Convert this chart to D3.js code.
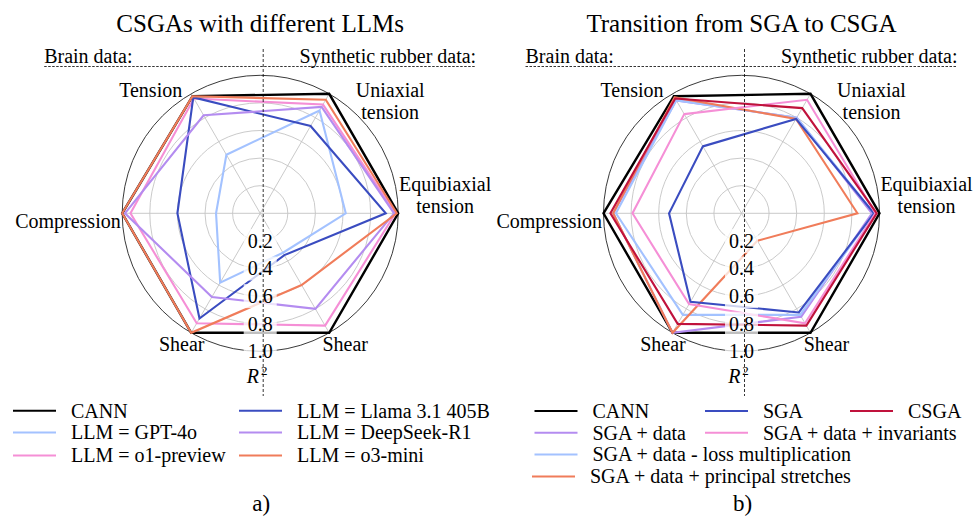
<!DOCTYPE html>
<meta charset="utf-8">
<head>
  <script src="https://cdn.jsdelivr.net/npm/d3@7"></script>
  <style>
    body { margin: 0; background: #fff; }
    svg text { font-family: "Liberation Serif", "Times New Roman", serif; fill: #000; }
  </style>
</head>
<body>
  <svg id="svg" width="974" height="518"></svg>
  <script>
    // axis order: Tension, Uniaxial tension, Equibiaxial tension, Shear (rubber), Shear (brain), Compression
    const axisAngles = [120, 60, 0, -60, -120, 180];
    const axisLabels = [["Tension"], ["Uniaxial", "tension"], ["Equibiaxial", "tension"], ["Shear"], ["Shear"], ["Compression"]];
    const radialTicks = [0.2, 0.4, 0.6, 0.8, 1.0];

    // panel a) values (R^2)
    const seriesA = ["CANN", "LLM = GPT-4o", "LLM = o1-preview", "LLM = Llama 3.1 405B", "LLM = DeepSeek-R1", "LLM = o3-mini"];
    const cannA    = [0.98, 1.00, 1.00, 1.00, 1.00, 1.00];
    const gpt4o    = [0.49, 0.86, 0.62, 0.33, 0.58, 0.32];
    const o1prev   = [0.96, 0.91, 0.98, 0.94, 0.92, 0.94];
    const llama    = [0.97, 0.73, 0.91, 0.35, 0.88, 0.60];
    const deepseek = [0.82, 0.89, 0.97, 0.80, 0.70, 0.98];
    const o3mini   = [0.98, 0.95, 0.99, 0.60, 1.00, 1.00];

    // panel b) values (R^2)
    const seriesB = ["CANN", "SGA", "CSGA", "SGA + data", "SGA + data + invariants", "SGA + data - loss multiplication", "SGA + data + principal stretches"];
    const cannB   = [0.98, 1.00, 1.00, 1.00, 1.00, 1.00];
    const sga     = [0.56, 0.79, 0.96, 0.83, 0.74, 0.525];
    const csga    = [0.96, 0.88, 0.98, 0.94, 0.925, 0.95];
    const sgaData = [0.945, 0.80, 0.945, 0.865, 1.00, 0.93];
    const sgaInv  = [0.83, 0.95, 0.97, 0.92, 0.76, 0.79];
    const sgaLoss = [0.945, 0.80, 0.96, 0.85, 0.85, 0.91];
    const sgaPS   = [0.97, 0.79, 0.84, 0.23, 1.00, 0.93];

    const C = {
      black: "#000000", lblue: "#a3c2ff", pink: "#f58fd6", dblue: "#3a4cc0",
      purple: "#b48cf0", orange: "#f07c5a", crimson: "#c0123c"
    };

    const svg = d3.select("#svg");
    const R = 138, cy = 213.3;

    // label offsets from centre (anchor, dx, baseline dy)
    const labelPos = [
      {anchor: "end", dx: -78, dy: -116},
      {anchor: "middle", dx: 130, dy: -116},
      {anchor: "middle", dx: 185, dy: -22.6},
      {anchor: "middle", dx: 85, dy: 137.7},
      {anchor: "middle", dx: -78.5, dy: 137.7},
      {anchor: "end", dx: -139.5, dy: 14.7}
    ];

    function panel(cx, title, panelTag, lines, legend) {
      let g = svg.append("g");
      let r = d3.scaleLinear().domain([0, 1]).range([0, R]);
      let rad = a => (90 - a) * Math.PI / 180;   // math angle -> d3 radial angle

      g.append("text").attr("x", cx).attr("y", 31.5).attr("text-anchor", "middle")
        .style("font-size", "25px").text(title);

      // header with dashed separators
      g.append("text").attr("x", cx - 216).attr("y", 63).style("font-size", "20px").text("Brain data:");
      g.append("text").attr("x", cx + 216).attr("y", 63).attr("text-anchor", "end")
        .style("font-size", "20px").text("Synthetic rubber data:");
      g.append("line").attr("x1", cx - 216).attr("x2", cx + 216).attr("y1", 66.5).attr("y2", 66.5)
        .attr("stroke", "#000").attr("stroke-width", 0.8).attr("stroke-dasharray", "2.5,1.5");

      let plot = g.append("g").attr("transform", `translate(${cx},${cy})`);

      // grid circles
      plot.selectAll("circle.grid").data(radialTicks.slice(0, -1)).enter().append("circle")
        .attr("r", d => r(d)).attr("fill", "none").attr("stroke", "#c4c4c4").attr("stroke-width", 0.9);
      // spokes
      plot.selectAll("line.spoke").data(axisAngles).enter().append("line")
        .attr("x1", 0).attr("y1", 0)
        .attr("x2", d => r(1) * Math.cos(d * Math.PI / 180))
        .attr("y2", d => -r(1) * Math.sin(d * Math.PI / 180))
        .attr("stroke", "#c4c4c4").attr("stroke-width", 0.9);
      plot.append("circle").attr("r", r(1)).attr("fill", "none").attr("stroke", "#222").attr("stroke-width", 0.9);

      // vertical dashed divider
      g.append("line").attr("x1", cx + 3).attr("x2", cx + 3).attr("y1", 49).attr("y2", 396)
        .attr("stroke", "#000").attr("stroke-width", 0.8).attr("stroke-dasharray", "3,2");

      let lineGen = d3.lineRadial()
        .angle((d, i) => rad(axisAngles[i]))
        .radius(d => r(d))
        .curve(d3.curveLinearClosed);

      plot.selectAll("path.series").data(lines).enter().append("path")
        .attr("d", d => lineGen(d.values))
        .attr("fill", "none").attr("stroke", d => d.color)
        .attr("stroke-width", d => d.color === C.black ? 2.4 : 2.1)
        .attr("stroke-linejoin", "miter");

      // radial tick labels with translucent white boxes
      radialTicks.forEach(t => {
        let tg = plot.append("g");
        let txt = tg.append("text").attr("x", 0).attr("y", r(t)).attr("dy", "0.35em")
          .attr("text-anchor", "middle").style("font-size", "20px").text(t.toFixed(1));
        let bb = txt.node().getBBox();
        tg.insert("rect", "text").attr("x", bb.x - 4).attr("y", bb.y - 1)
          .attr("width", bb.width + 8).attr("height", bb.height + 2)
          .attr("fill", "#fff").attr("opacity", 0.75);
      });
      let rl = plot.append("text").attr("x", -3).attr("y", 170).attr("text-anchor", "middle").style("font-size", "20px");
      rl.append("tspan").style("font-style", "italic").text("R");
      rl.append("tspan").attr("dx", 2).attr("dy", -8).style("font-size", "13px").text("2");

      // axis labels
      axisLabels.forEach((lab, i) => {
        let p = labelPos[i];
        let t = plot.append("text").attr("text-anchor", p.anchor).style("font-size", "20px");
        lab.forEach((s, k) => t.append("tspan").attr("x", p.dx).attr("y", p.dy + k * 22).text(s));
      });

      // legend
      lines.forEach((d, i) => {
        let L = legend[i];
        g.append("line").attr("x1", L.x).attr("x2", L.x + 43).attr("y1", L.y).attr("y2", L.y)
          .attr("stroke", d.color).attr("stroke-width", 2);
        g.append("text").attr("x", L.x + 58).attr("y", L.y + 6.8).style("font-size", "20px").text(d.name);
      });

      g.append("text").attr("x", cx + 1).attr("y", 511).attr("text-anchor", "middle")
        .style("font-size", "23px").text(panelTag);
    }

    const linesA = [
      {name: seriesA[0], values: cannA, color: C.black},
      {name: seriesA[1], values: gpt4o, color: C.lblue},
      {name: seriesA[2], values: o1prev, color: C.pink},
      {name: seriesA[3], values: llama, color: C.dblue},
      {name: seriesA[4], values: deepseek, color: C.purple},
      {name: seriesA[5], values: o3mini, color: C.orange}
    ];
    const legendA = [
      {x: 13, y: 410.7}, {x: 13, y: 432.5}, {x: 13, y: 455.5},
      {x: 239, y: 410.7}, {x: 239, y: 432.5}, {x: 239, y: 455.5}
    ];
    panel(260.2, "CSGAs with different LLMs", "a)", linesA, legendA);

    const linesB = [
      {name: seriesB[0], values: cannB, color: C.black},
      {name: seriesB[3], values: sgaData, color: C.purple},
      {name: seriesB[5], values: sgaLoss, color: C.lblue},
      {name: seriesB[6], values: sgaPS, color: C.orange},
      {name: seriesB[1], values: sga, color: C.dblue},
      {name: seriesB[4], values: sgaInv, color: C.pink},
      {name: seriesB[2], values: csga, color: C.crimson}
    ];
    const legendB = [
      {x: 534.5, y: 411}, {x: 534.5, y: 432.8}, {x: 534.5, y: 454.5}, {x: 532, y: 476.5},
      {x: 705, y: 411}, {x: 705, y: 432.8},
      {x: 850, y: 411}
    ];
    panel(741.5, "Transition from SGA to CSGA", "b)", linesB, legendB);
  </script>
</body>
